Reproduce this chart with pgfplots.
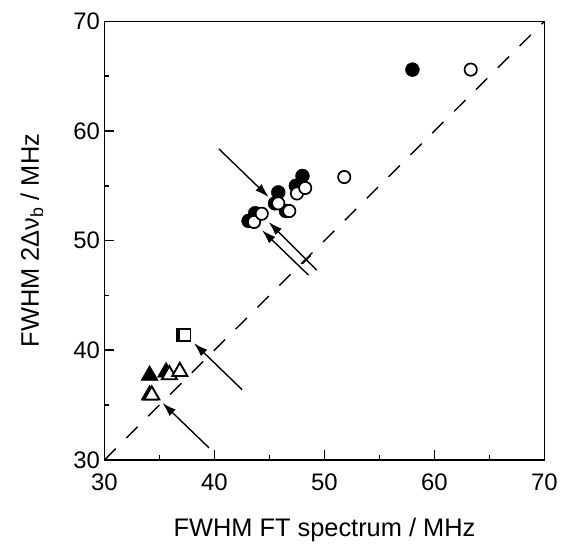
\documentclass[border=0pt]{standalone}
\usepackage{pgfplots}
\pgfplotsset{compat=1.18}
\usetikzlibrary{arrows.meta}
\usepackage{fontspec}
\setmainfont{Liberation Sans}
\begin{document}
\begin{tikzpicture}
\begin{axis}[
  scale only axis, width=442pt, height=440.5pt,
  xmin=30, xmax=70, ymin=30, ymax=70,
  xtick={30,40,...,70}, ytick={30,40,...,70},
  minor tick num=1,
  tick align=inside, xtick pos=bottom, ytick pos=left,
  major tick length=10pt, minor tick length=5pt,
  axis line style={line width=1.5pt},
  every tick/.style={line width=1.5pt, black},
  tick label style={font=\fontsize{24}{28}\selectfont},
  xticklabel style={yshift=-11pt},
  yticklabel style={xshift=-1pt},
  /pgf/number format/assume math mode=true,
  xlabel={FWHM FT spectrum / MHz},
  ylabel={FWHM 2Δν\textsubscript{b} / MHz},
  label style={font=\fontsize{25.5}{30}\selectfont},
  xlabel style={at={([yshift=-70pt]axis description cs:0.5,0)}, anchor=center},
  ylabel style={at={([xshift=-73pt]axis description cs:0,0.5)}, anchor=center, rotate=0},
  clip=false,
]
\coordinate (O) at (axis cs:30,30);
% diagonal y = x
\addplot[black, line width=1.4pt, dash pattern=on 16pt off 15pt] coordinates {(30,30) (70,70)};
% arrows
\draw[line width=1.4pt, -{Latex[length=14pt, width=9pt]}] (axis cs:40.41,58.36) -- (axis cs:44.93,53.97);
\draw[line width=1.4pt, -{Latex[length=14pt, width=9pt]}] (axis cs:49.30,47.30) -- (axis cs:44.93,51.70);
\draw[line width=1.4pt, -{Latex[length=14pt, width=9pt]}] (axis cs:48.55,46.85) -- (axis cs:44.33,50.94);
\draw[line width=1.4pt] (axis cs:47.99,47.89) -- (axis cs:48.75,48.65);
\draw[line width=1.4pt, -{Latex[length=14pt, width=9pt]}] (axis cs:42.52,36.39) -- (axis cs:38.14,40.64);
\draw[line width=1.4pt, -{Latex[length=14pt, width=9pt]}] (axis cs:39.50,31.09) -- (axis cs:35.28,35.18);
% filled circles
\addplot[only marks, mark=*, mark size=7pt, black] coordinates {
 (43.1,51.8) (43.7,52.5) (45.5,53.4) (45.8,54.4) (46.5,52.7) (47.4,55.0) (48.0,55.9) (58.0,65.6)};
% open circles
\addplot[only marks, mark=*, mark size=6.2pt, line width=1.7pt, mark options={draw=black, fill=white}] coordinates {
 (43.6,51.7) (44.3,52.45) (45.8,53.4) (46.8,52.7) (47.5,54.3) (48.25,54.8) (51.8,55.8) (63.3,65.6)};
% filled triangles
\addplot[only marks, mark=triangle*, mark size=10pt, black] coordinates {
 (34.1,37.7) (35.6,38.0) (34.1,35.9)};
% open triangles
\addplot[only marks, mark=triangle*, mark size=8.8pt, line width=1.9pt, mark options={draw=black, fill=white}] coordinates {
 (35.9,37.75) (36.85,38.05) (34.3,35.9)};
% squares
\addplot[only marks, mark=square*, mark size=6.5pt, black] coordinates {(37.1,41.4)};
\addplot[only marks, mark=square*, mark size=5.8pt, line width=1.8pt, mark options={draw=black, fill=white}] coordinates {(37.3,41.4)};
\end{axis}
\path (O) ++(-105pt,-84pt) coordinate (BL);
\path (O) ++(456pt,462pt) coordinate (TR);
\path (BL) rectangle (TR);
\end{tikzpicture}
\end{document}
